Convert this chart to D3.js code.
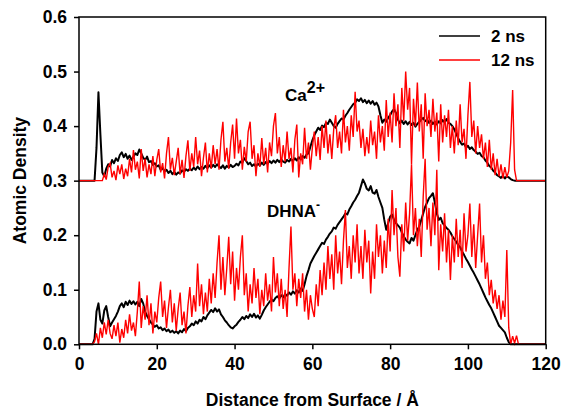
<!DOCTYPE html>
<html><head><meta charset="utf-8">
<script src="https://cdn.jsdelivr.net/npm/d3@7"></script>
<style>
html,body{margin:0;padding:0;background:#fff;}
text{font-family:"Liberation Sans",Arial,sans-serif;font-weight:bold;fill:#000;}
</style></head>
<body>
<svg id="chart" width="561" height="409"></svg>
<script>
// ---- data ----
const xTicks = [0, 20, 40, 60, 80, 100, 120];
const yTicks = [0.0, 0.1, 0.2, 0.3, 0.4, 0.5, 0.6];
const seriesNames = ["2 ns", "12 ns"];
const seriesColors = ["#000000", "#ff0000"];
const caOffset = 0.3;
const sampleStep = 0.5;

// Ca2+ densities (plotted on top of a 0.3 offset)
const caStart2ns = 4.0;
const ca2ns = [0,0.06,0.162,0.085,0.015,0.008,0.022,0.03,0.026,0.038,0.032,0.041,0.036,0.047,0.052,0.043,0.049,0.04,0.046,0.038,
0.044,0.05,0.047,0.057,0.05,0.042,0.038,0.044,0.034,0.036,0.029,0.032,0.026,0.028,0.02,0.023,0.017,0.02,0.014,0.018,
0.012,0.016,0.011,0.015,0.013,0.019,0.016,0.021,0.018,0.022,0.019,0.024,0.02,0.026,0.021,0.025,0.022,0.027,0.023,0.028,
0.024,0.029,0.025,0.03,0.026,0.023,0.028,0.022,0.027,0.024,0.029,0.025,0.027,0.031,0.028,0.035,0.033,0.041,0.036,0.03,
0.033,0.027,0.03,0.026,0.031,0.028,0.033,0.029,0.034,0.031,0.036,0.032,0.037,0.033,0.038,0.034,0.039,0.035,0.033,0.038,
0.035,0.04,0.036,0.041,0.037,0.043,0.039,0.045,0.042,0.048,0.05,0.062,0.074,0.083,0.09,0.097,0.093,0.101,0.098,0.106,
0.104,0.112,0.106,0.1,0.097,0.104,0.109,0.114,0.112,0.119,0.124,0.13,0.135,0.14,0.143,0.149,0.146,0.151,0.144,0.148,
0.142,0.147,0.141,0.146,0.139,0.143,0.136,0.12,0.106,0.112,0.108,0.115,0.12,0.127,0.131,0.124,0.112,0.105,0.11,0.104,
0.109,0.103,0.108,0.102,0.106,0.099,0.104,0.108,0.112,0.115,0.109,0.112,0.106,0.11,0.104,0.108,0.103,0.109,0.105,0.111,
0.107,0.113,0.106,0.104,0.1,0.094,0.086,0.078,0.071,0.066,0.068,0.061,0.064,0.058,0.061,0.056,0.053,0.049,0.051,0.045,
0.043,0.037,0.033,0.027,0.024,0.018,0.015,0.01,0.008,0.005,0.009,0.004,0.008,0.006,0.003,0.001,0];

const caStart12ns = 6.0;
const ca12ns = [0,0.012,0.002,0.025,0.032,0.006,0.018,0.001,0.028,0.012,0.03,0.003,0.022,0.008,0.04,0.015,0.056,0.02,0.035,0.004,
0.058,0.018,0.04,0.006,0.03,0.012,0.045,0.008,0.038,0.058,0.015,0.032,0.004,0.05,0.08,0.02,0.042,0.01,0.035,0.06,
0.012,0.038,0.005,0.045,0.074,0.018,0.05,0.025,0.08,0.03,0.055,0.008,0.042,0.07,0.015,0.05,0.022,0.065,0.03,0.058,
0.02,0.075,0.108,0.035,0.06,0.022,0.07,0.103,0.04,0.114,0.05,0.075,0.02,0.062,0.035,0.09,0.108,0.04,0.065,0.008,
0.05,0.025,0.078,0.03,0.06,0.015,0.07,0.045,0.1,0.124,0.05,0.08,0.025,0.065,0.035,0.09,0.04,0.06,0.015,0.075,
0.103,0.006,0.05,0.03,0.097,0.04,0.07,0.02,0.06,0.09,0.045,0.08,0.038,0.1,0.06,0.11,0.05,0.085,0.04,0.095,
0.12,0.06,0.09,0.05,0.13,0.07,0.1,0.055,0.12,0.08,0.163,0.09,0.11,0.06,0.095,0.045,0.08,0.05,0.11,0.065,
0.09,0.04,0.12,0.07,0.1,0.055,0.148,0.08,0.125,0.07,0.16,0.1,0.14,0.06,0.17,0.11,0.2,0.13,0.17,0.03,
0.15,0.1,0.18,0.09,0.14,0.04,0.16,0.1,0.13,0.08,0.15,0.09,0.125,0.035,0.14,0.07,0.12,0.08,0.13,0.06,
0.1,0.05,0.11,0.065,0.14,0.07,0.095,0.04,0.12,0.181,0.08,0.11,0.05,0.1,0.06,0.085,0.04,0.07,0.025,0.075,
0.02,0.05,0.01,0.04,0.008,0.03,0.004,0.025,0.006,0.018,0.07,0.166,0.02,0];

// DHNA- densities
const dhnaStart2ns = 3.5;
const dhna2ns = [0,0.01,0.06,0.075,0.045,0.038,0.062,0.07,0.05,0.033,0.04,0.046,0.052,0.06,0.07,0.075,0.068,0.078,0.072,0.08,
0.074,0.079,0.073,0.078,0.07,0.083,0.075,0.06,0.052,0.046,0.04,0.036,0.032,0.035,0.029,0.031,0.026,0.029,0.024,0.027,
0.022,0.025,0.021,0.024,0.02,0.025,0.022,0.028,0.024,0.03,0.033,0.038,0.035,0.042,0.038,0.045,0.042,0.05,0.046,0.053,
0.058,0.063,0.059,0.066,0.06,0.064,0.055,0.05,0.044,0.04,0.035,0.031,0.029,0.033,0.036,0.041,0.045,0.05,0.046,0.052,
0.048,0.055,0.05,0.056,0.049,0.053,0.047,0.054,0.062,0.068,0.073,0.078,0.082,0.079,0.085,0.088,0.084,0.09,0.086,0.092,
0.089,0.095,0.091,0.097,0.093,0.099,0.095,0.102,0.098,0.11,0.125,0.136,0.148,0.155,0.162,0.168,0.174,0.18,0.186,0.184,
0.192,0.197,0.203,0.207,0.214,0.212,0.219,0.224,0.229,0.234,0.24,0.238,0.247,0.253,0.26,0.265,0.272,0.278,0.29,0.302,
0.295,0.285,0.282,0.29,0.278,0.276,0.283,0.27,0.26,0.25,0.228,0.21,0.222,0.234,0.238,0.228,0.222,0.218,0.214,0.205,
0.198,0.192,0.188,0.185,0.195,0.19,0.2,0.21,0.216,0.228,0.24,0.252,0.26,0.268,0.272,0.277,0.26,0.24,0.228,0.232,
0.222,0.218,0.213,0.21,0.205,0.198,0.193,0.188,0.182,0.178,0.17,0.164,0.157,0.151,0.144,0.137,0.131,0.124,0.117,0.11,
0.102,0.094,0.086,0.079,0.072,0.066,0.058,0.05,0.042,0.034,0.03,0.026,0.022,0.012,0.004,0];

const dhnaStart12ns = 3.5;
const dhna12ns = [0,0.005,0.02,0,0.03,0.012,0.04,0.018,0.045,0.02,0.01,0.035,0.015,0.04,0.003,0.028,0.012,0.045,0.02,0.055,
0.025,0.04,0.015,0.06,0.115,0.03,0.07,0.045,0.09,0.035,0.075,0.02,0.06,0.04,0.085,0.115,0.05,0.08,0.03,0.068,
0.1,0.04,0.075,0.025,0.065,0.095,0.035,0.06,0.02,0.07,0.105,0.05,0.09,0.06,0.148,0.07,0.11,0.055,0.095,0.06,
0.12,0.075,0.13,0.085,0.15,0.2,0.1,0.16,0.09,0.14,0.197,0.11,0.17,0.08,0.14,0.1,0.16,0.2,0.09,0.13,
0.06,0.11,0.075,0.14,0.085,0.12,0.055,0.1,0.07,0.13,0.08,0.11,0.06,0.16,0.095,0.13,0.07,0.12,0.065,0.1,
0.05,0.14,0.216,0.1,0.13,0.07,0.12,0.085,0.13,0.06,0.1,0.045,0.09,0.065,0.05,0.11,0.07,0.136,0.09,0.15,
0.1,0.18,0.12,0.165,0.1,0.2,0.13,0.17,0.11,0.19,0.246,0.14,0.18,0.12,0.2,0.15,0.22,0.13,0.18,0.12,
0.21,0.15,0.19,0.093,0.17,0.12,0.22,0.16,0.2,0.13,0.19,0.14,0.23,0.17,0.283,0.2,0.25,0.16,0.124,0.22,
0.17,0.26,0.19,0.24,0.33,0.2,0.25,0.18,0.23,0.16,0.27,0.34,0.21,0.25,0.18,0.26,0.2,0.32,0.136,0.22,
0.17,0.24,0.15,0.21,0.118,0.2,0.15,0.23,0.16,0.21,0.14,0.24,0.17,0.2,0.258,0.16,0.22,0.14,0.2,0.258,
0.15,0.2,0.12,0.15,0.09,0.118,0.075,0.1,0.065,0.09,0.045,0.08,0.05,0.173,0.03,0,0.015,0.002,0.016,0];

// ---- layout ----
const svg = d3.select("#chart");
const m = {left: 79, right: 15.3, top: 17, bottom: 64.7};
const W = 561, H = 409;
const x = d3.scaleLinear().domain([0, 120]).range([m.left, W - m.right]);
const y = d3.scaleLinear().domain([0, 0.6]).range([H - m.bottom, m.top]);

function toPoints(start, vals, base) {
  const pts = [[0, base]];
  vals.forEach((v, i) => pts.push([start + i * sampleStep, base + v]));
  pts.push([120, base]);
  return pts;
}
const line = d3.line().x(d => x(d[0])).y(d => y(d[1]));

const plot = svg.append("g");
plot.append("path").attr("d", line(toPoints(caStart2ns, ca2ns, caOffset)))
  .attr("fill", "none").attr("stroke", seriesColors[0]).attr("stroke-width", 2).attr("stroke-linejoin", "round");
plot.append("path").attr("d", line(toPoints(dhnaStart2ns, dhna2ns, 0)))
  .attr("fill", "none").attr("stroke", seriesColors[0]).attr("stroke-width", 2).attr("stroke-linejoin", "round");
plot.append("path").attr("d", line(toPoints(caStart12ns, ca12ns, caOffset)))
  .attr("fill", "none").attr("stroke", seriesColors[1]).attr("stroke-width", 1.4);
plot.append("path").attr("d", line(toPoints(dhnaStart12ns, dhna12ns, 0)))
  .attr("fill", "none").attr("stroke", seriesColors[1]).attr("stroke-width", 1.4);

// frame
svg.append("rect").attr("x", x(0)).attr("y", y(0.6)).attr("width", x(120) - x(0)).attr("height", y(0) - y(0.6))
  .attr("fill", "none").attr("stroke", "#000").attr("stroke-width", 1.5);

// axes
const xAxis = svg.append("g").attr("transform", `translate(0,${y(0)})`)
  .call(d3.axisBottom(x).tickValues(xTicks).tickSize(5).tickPadding(8).tickFormat(d3.format("d")));
const yAxis = svg.append("g").attr("transform", `translate(${x(0)},0)`)
  .call(d3.axisLeft(y).tickValues(yTicks).tickSize(5).tickPadding(7).tickFormat(d3.format(".1f")));
[xAxis, yAxis].forEach(a => {
  a.select(".domain").remove();
  a.selectAll(".tick line").attr("stroke", "#000").attr("stroke-width", 1.5);
  a.selectAll(".tick text").attr("font-size", 17.5).style("font-family", "'Liberation Sans',Arial,sans-serif").style("font-weight", "bold").attr("fill", "#000");
});

// axis titles
svg.append("text").attr("x", (x(0) + x(120)) / 2).attr("y", 406).attr("text-anchor", "middle")
  .attr("font-size", 17.5).text("Distance from Surface / Å");
svg.append("text").attr("transform", `translate(26,${(y(0) + y(0.6)) / 2}) rotate(-90)`).attr("text-anchor", "middle")
  .attr("font-size", 17.5).text("Atomic Density");

// annotations
const ca = svg.append("text").attr("x", 285).attr("y", 101).attr("font-size", 17);
ca.append("tspan").text("Ca");
ca.append("tspan").attr("dy", -8).attr("font-size", 16).text("2+");
const dh = svg.append("text").attr("x", 267).attr("y", 217).attr("font-size", 17);
dh.append("tspan").text("DHNA");
dh.append("tspan").attr("dy", -8).attr("font-size", 12).text("-");

// legend
const leg = svg.append("g");
seriesNames.forEach((n, i) => {
  const ly = 36 + i * 24;
  leg.append("line").attr("x1", 439).attr("x2", 480).attr("y1", ly).attr("y2", ly)
    .attr("stroke", seriesColors[i]).attr("stroke-width", 1.6);
  leg.append("text").attr("x", 491).attr("y", ly + 6).attr("font-size", 17).text(n);
});
</script>
</body></html>
